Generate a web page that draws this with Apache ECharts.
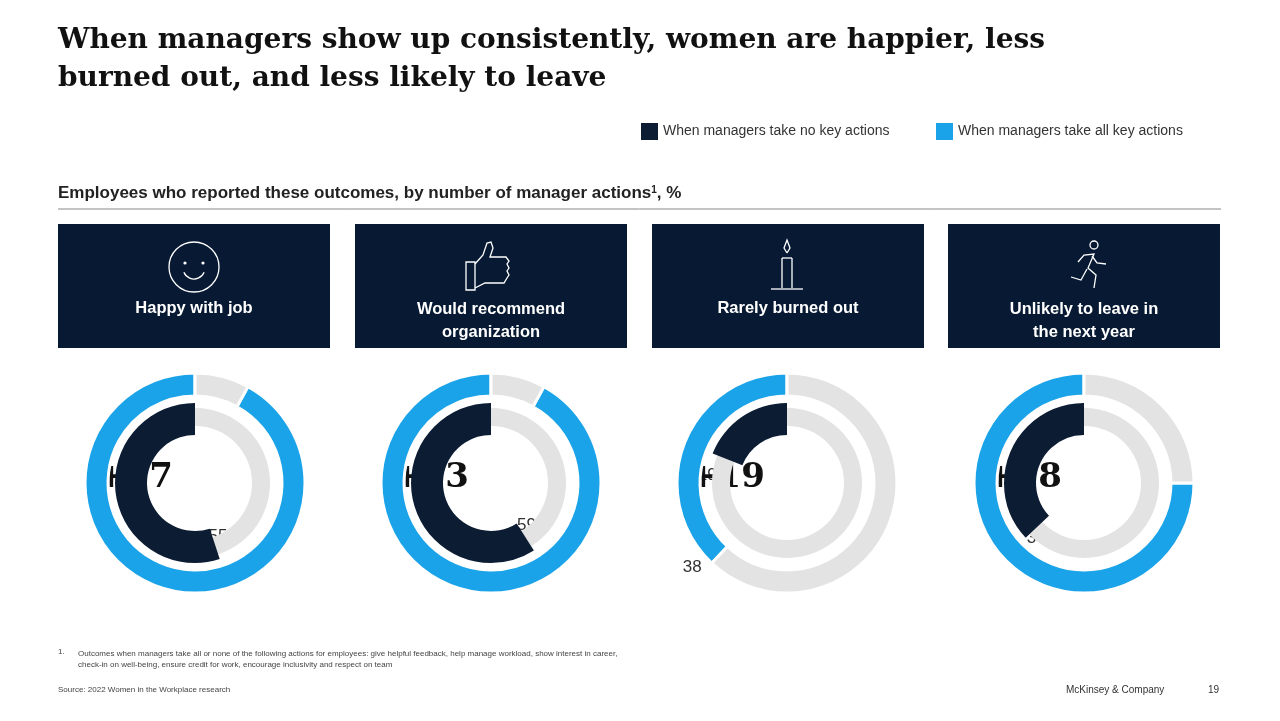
<!DOCTYPE html>
<html><head><meta charset="utf-8">
<script src="https://cdn.jsdelivr.net/npm/echarts@6/dist/echarts.min.js"></script>
<style>html,body{margin:0;padding:0;background:#fff}#c{width:1280px;height:721px}</style>
</head><body><div id="c"></div>
<script>
const categories = ['Happy with job', 'Would recommend\norganization', 'Rarely burned out', 'Unlikely to leave in\nthe next year'];
const noActions = [55, 59, 19, 37];
const allActions = [92, 92, 38, 75];
const diffs = ['+37', '+33', '+19', '+38'];

const DARK = '#0c1c33', BLUE = '#1aa3e8', GREY = '#e3e3e3';
const cx = [195, 491, 787, 1084], cy = 483;
const panelX = [58, 355, 652, 948];
const chart = echarts.init(document.getElementById('c'));
const series = [], graphic = [];

function lbl(x, y, t) {
  return {type:'text', x:x-14, y:y-10, style:{text:t, fontFamily:'Liberation Sans, Arial', fontSize:17, fill:'#333', width:28, align:'center'}};
}
function pl(points) { return {type:'polyline', shape:{points}, style:{stroke:'#fff', fill:null, lineWidth:1.3}}; }
categories.forEach((cat, i) => {
  const center = [cx[i], cy];
  series.push({type:'pie', silent:true, radius:[57,75], center, clockwise:false, startAngle:90, label:{show:false}, labelLine:{show:false},
    data:[{value:100, itemStyle:{color:GREY}}]});
  series.push({type:'pie', silent:true, radius:[48,80], center, clockwise:false, startAngle:90, label:{show:false}, labelLine:{show:false},
    data:[{value:noActions[i], itemStyle:{color:DARK}}, {value:100-noActions[i], itemStyle:{color:'rgba(0,0,0,0)'}}]});
  series.push({type:'pie', silent:true, radius:[87,110], center, clockwise:false, startAngle:90, label:{show:false}, labelLine:{show:false},
    itemStyle:{borderColor:'#fff', borderWidth:3},
    data:[{value:allActions[i], itemStyle:{color:BLUE}}, {value:100-allActions[i], itemStyle:{color:GREY}}]});
  const aIn = Math.PI/2 + noActions[i]/100*2*Math.PI + 0.28;
  graphic.push(lbl(cx[i] + 66*Math.cos(aIn), cy - 66*Math.sin(aIn), String(noActions[i])));
  let aOut = Math.PI/2 + allActions[i]/100*2*Math.PI, rOut = 118;
  if (allActions[i] > 80) { aOut += 0.28; rOut = 98; }
  else if (allActions[i] > 50) { aOut += 0.25; rOut = 108; }
  graphic.push(lbl(cx[i] + rOut*Math.cos(aOut), cy - rOut*Math.sin(aOut), String(allActions[i])));
  graphic.push({type:'text', x:cx[i]-60, y:cy-22, style:{text:diffs[i], width:120, align:'center', fontFamily:'DejaVu Serif, Liberation Serif', fontWeight:'bold', fontSize:34, fill:'#111'}});
  graphic.push({type:'rect', shape:{x:panelX[i], y:224, width:272, height:124}, style:{fill:'#081a33'}});
  graphic.push({type:'text', x:panelX[i]+136, y:cat.includes('\n') ? 298 : 297, style:{text:cat, align:'center', lineHeight:23, fontFamily:'Liberation Sans, Arial', fontWeight:'bold', fontSize:16.5, fill:'#fff'}});
});
// icons
const ic = {stroke:'#fff', fill:null, lineWidth:1.3};
graphic.push({type:'circle', shape:{cx:194, cy:267, r:25}, style:ic});
graphic.push({type:'circle', shape:{cx:185, cy:263, r:1.6}, style:{fill:'#fff'}});
graphic.push({type:'circle', shape:{cx:203, cy:263, r:1.6}, style:{fill:'#fff'}});
graphic.push({type:'arc', shape:{cx:194, cy:268, r:11, startAngle:0.4, endAngle:Math.PI-0.4}, style:ic});
graphic.push({type:'rect', shape:{x:466, y:262, width:9, height:28}, style:ic});
graphic.push(pl([[475,264],[483,255],[487,243],[491,242],[493,248],[490,257],[506,257],[509,261],[507,264],[509,268],[507,271],[509,275],[507,278],[504,283],[485,283],[475,288]]));
graphic.push(pl([[782,258],[782,288]]), pl([[792,258],[792,288]]), pl([[771,289],[803,289]]), pl([[782,258],[792,258]]));
graphic.push(pl([[787,253],[784,248],[787,240],[790,248],[787,253]]));
graphic.push({type:'circle', shape:{cx:1094, cy:245, r:4}, style:ic});
graphic.push(pl([[1078,262],[1084,255],[1094,254],[1088,268],[1096,275],[1094,288]]), pl([[1087,269],[1081,280],[1071,277]]), pl([[1092,256],[1097,263],[1106,264]]));

graphic.push(
  {type:'text', x:58, y:22, style:{text:'When managers show up consistently, women are happier, less\nburned out, and less likely to leave', lineHeight:38, fontFamily:'DejaVu Serif, Liberation Serif', fontWeight:'bold', fontSize:28, fill:'#111'}},
  {type:'rect', shape:{x:641, y:123, width:17, height:17}, style:{fill:DARK}},
  {type:'text', x:663, y:124, style:{text:'When managers take no key actions', fontFamily:'Liberation Sans, Arial', fontSize:14, fill:'#333'}},
  {type:'rect', shape:{x:936, y:123, width:17, height:17}, style:{fill:BLUE}},
  {type:'text', x:958, y:124, style:{text:'When managers take all key actions', fontFamily:'Liberation Sans, Arial', fontSize:14, fill:'#333'}},
  {type:'text', x:58, y:185, style:{rich:{a:{fontFamily:'Liberation Sans, Arial', fontWeight:'bold', fontSize:17, fill:'#222'}, s:{fontFamily:'Liberation Sans, Arial', fontWeight:'bold', fontSize:10, fill:'#222', verticalAlign:'top'}}, text:'{a|Employees who reported these outcomes, by number of manager actions}{s|1}{a|, %}'}},
  {type:'line', shape:{x1:58, y1:209, x2:1221, y2:209}, style:{stroke:'#888', lineWidth:1}},
  {type:'text', x:58, y:648, style:{text:'1.', fontFamily:'Liberation Sans, Arial', fontSize:8, fill:'#444'}},
  {type:'text', x:78, y:648, style:{text:'Outcomes when managers take all or none of the following actions for employees: give helpful feedback, help manage workload, show interest in career,\ncheck-in on well-being, ensure credit for work, encourage inclusivity and respect on team', lineHeight:11, fontFamily:'Liberation Sans, Arial', fontSize:8, fill:'#444'}},
  {type:'text', x:58, y:686, style:{text:'Source: 2022 Women in the Workplace research', fontFamily:'Liberation Sans, Arial', fontSize:8, fill:'#444'}},
  {type:'text', x:1066, y:685, style:{text:'McKinsey & Company', fontFamily:'Liberation Sans, Arial', fontSize:10, fill:'#333'}},
  {type:'text', x:1208, y:685, style:{text:'19', fontFamily:'Liberation Sans, Arial', fontSize:10, fill:'#333'}}
);
chart.setOption({animation:false, series, graphic});
</script></body></html>
